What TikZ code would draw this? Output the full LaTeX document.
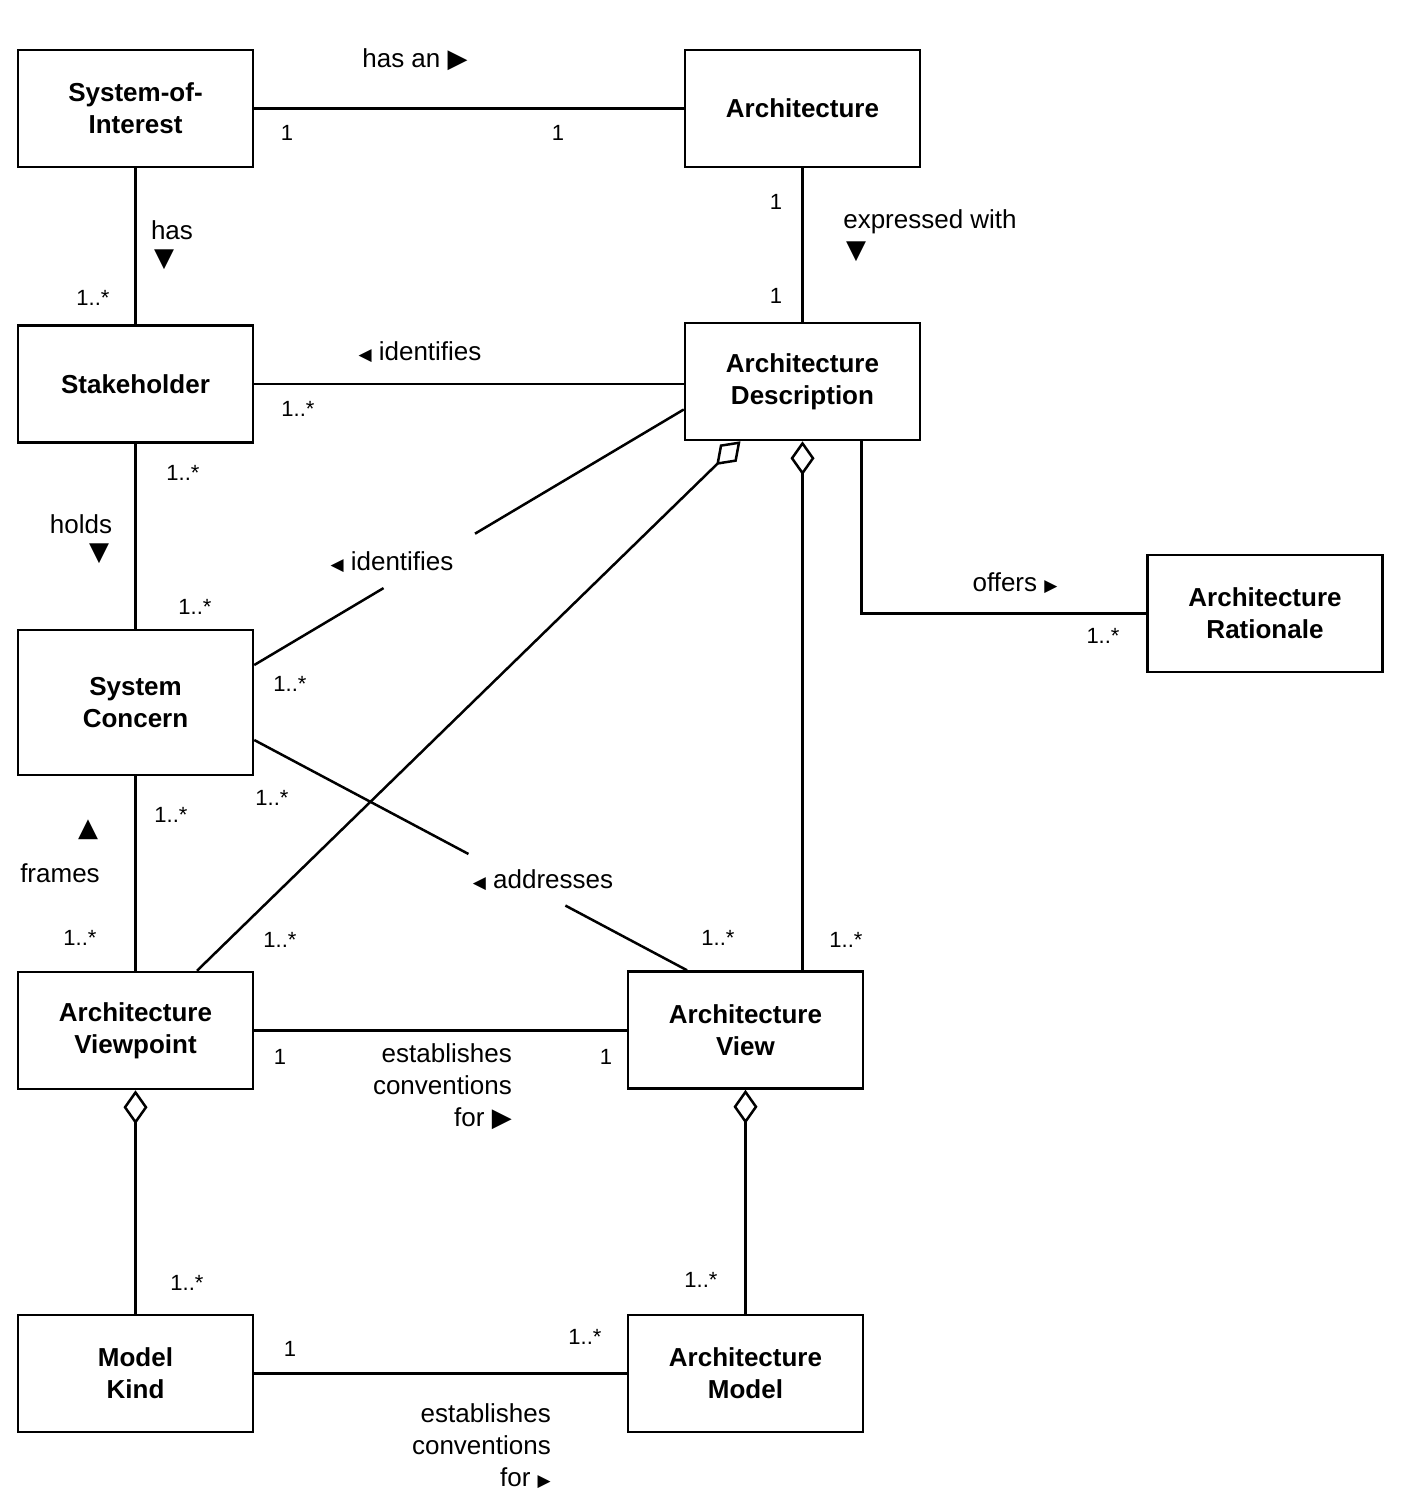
\documentclass[tikz,border=0pt]{standalone}
\usepackage{fontspec}
\setmainfont{Liberation Sans}
\newfontfamily\symf{DejaVu Sans}
\usetikzlibrary{arrows.meta,calc}
\begin{document}
\begin{tikzpicture}[x=1pt,y=-1pt,
  cls/.style={draw, line width=2.5pt, minimum width=235pt, minimum height=117pt, align=center,
    font=\fontsize{26}{32}\selectfont\bfseries, inner sep=0pt},
  lbl/.style={font=\fontsize{26}{32}\selectfont, inner sep=0pt},
  mult/.style={font=\fontsize{22}{26}\selectfont, inner sep=0pt},
  conn/.style={line width=2.5pt},
  agg/.style={conn, {Diamond[open,length=34pt,width=24pt,line width=2.5pt]}-}
]
\useasboundingbox (0,0) rectangle (1410,1508);
% classes
\node[cls] (SoI) at (135.5,108.5) {System-of-\\Interest};
\node[cls] (Arch) at (802.5,108.5) {Architecture};
\node[cls] (SH) at (135.5,384) {Stakeholder};
\node[cls] (AD) at (802.5,381.5) {Architecture\\Description};
\node[cls] (AR) at (1265,613.5) {Architecture\\Rationale};
\node[cls, minimum height=145pt] (SC) at (135.5,702.5) {System\\Concern};
\node[cls] (VP) at (135.5,1030.5) {Architecture\\Viewpoint};
\node[cls] (AV) at (745.5,1030) {Architecture\\View};
\node[cls] (MK) at (135.5,1373.5) {Model\\Kind};
\node[cls] (AM) at (745.5,1373.5) {Architecture\\Model};
% connectors
\draw[conn] (SoI) -- (Arch);
\draw[conn] (SoI) -- (SH);
\draw[conn] (Arch) -- (AD);
\draw[conn] (SH.east) -- (SH.east -| AD.west);
\draw[conn] (SH) -- (SC);
\coordinate (ia) at ($(AD.west)+(0,28)$);
\coordinate (ib) at ($(SC.east)+(0,-37.5)$);
\draw[conn] (ia) -- ($(ia)!0.486!(ib)$);
\draw[conn] ($(ia)!0.699!(ib)$) -- (ib);
\draw[agg] ($(AD.south)+(-62,0)$) -- ($(VP.north)+(61.5,0)$);
\draw[agg] (AD.south) -- (AD.south |- AV.north);
\draw[conn] ($(AD.south)+(59,0)$) |- (AR.west);
\coordinate (aa) at ($(SC.east)+(0,37.5)$);
\coordinate (ab) at ($(AV.north)+(-58.5,0)$);
\draw[conn] (aa) -- ($(aa)!0.495!(ab)$);
\draw[conn] ($(aa)!0.719!(ab)$) -- (ab);
\draw[conn] (SC) -- (VP);
\draw[conn] (VP.east) -- (VP.east -| AV.west);
\draw[agg] (VP.south) -- (MK.north);
\draw[agg] (AV.south) -- (AM.north);
\draw[conn] (MK) -- (AM);
% labels
\node[lbl] (l1) at (415,60) {has an {\symf ▶}};
\node[mult] (m1) at (287,133) {1};
\node[mult] (m2) at (558,133) {1};
\node[lbl] (l2) at (172,230) {has};
\node[lbl] (t2) at (164,260) {\symf ▼};
\node[mult] (m3) at (93,298) {1..*};
\node[lbl] (l3) at (420,352) {{\symf\fontsize{17}{17}\selectfont ◀} identifies};
\node[mult] (m4) at (298,409) {1..*};
\node[mult] (m5) at (776,202) {1};
\node[mult] (m6) at (776,296) {1};
\node[lbl] (l4) at (930,222) {expressed with};
\node[lbl] (t4) at (856,252) {\symf ▼};
\node[mult] (m7) at (183,473) {1..*};
\node[lbl] (l5) at (81,524) {holds};
\node[lbl] (t5) at (99,554) {\symf ▼};
\node[mult] (m8) at (195,607) {1..*};
\node[lbl] (l6) at (392,562) {{\symf\fontsize{17}{17}\selectfont ◀} identifies};
\node[mult] (m9) at (290,684) {1..*};
\node[mult] (m10) at (272,798) {1..*};
\node[mult] (m11) at (171,815) {1..*};
\node[lbl] (t7) at (88,830) {\symf ▲};
\node[lbl] (l7) at (60,873) {frames};
\node[lbl] (l8) at (543,880) {{\symf\fontsize{17}{17}\selectfont ◀} addresses};
\node[mult] (m12) at (80,938) {1..*};
\node[mult] (m13) at (280,940) {1..*};
\node[mult] (m14) at (718,938) {1..*};
\node[mult] (m15) at (846,940) {1..*};
\node[lbl] (l9) at (1015,583) {offers {\symf\fontsize{17}{17}\selectfont ▶}};
\node[mult] (m16) at (1103,636) {1..*};
\node[mult] (m17) at (280,1057) {1};
\node[mult] (m18) at (606,1057) {1};
\node[lbl, align=right, anchor=east] (l10) at (512,1087) {establishes\\conventions\\for {\symf ▶}};
\node[mult] (m19) at (187,1283) {1..*};
\node[mult] (m20) at (701,1280) {1..*};
\node[mult] (m21) at (290,1349) {1};
\node[mult] (m22) at (585,1337) {1..*};
\node[lbl, align=right, anchor=east] (l11) at (551,1446) {establishes\\conventions\\for {\symf\fontsize{17}{17}\selectfont ▶}};
\end{tikzpicture}
\end{document}
